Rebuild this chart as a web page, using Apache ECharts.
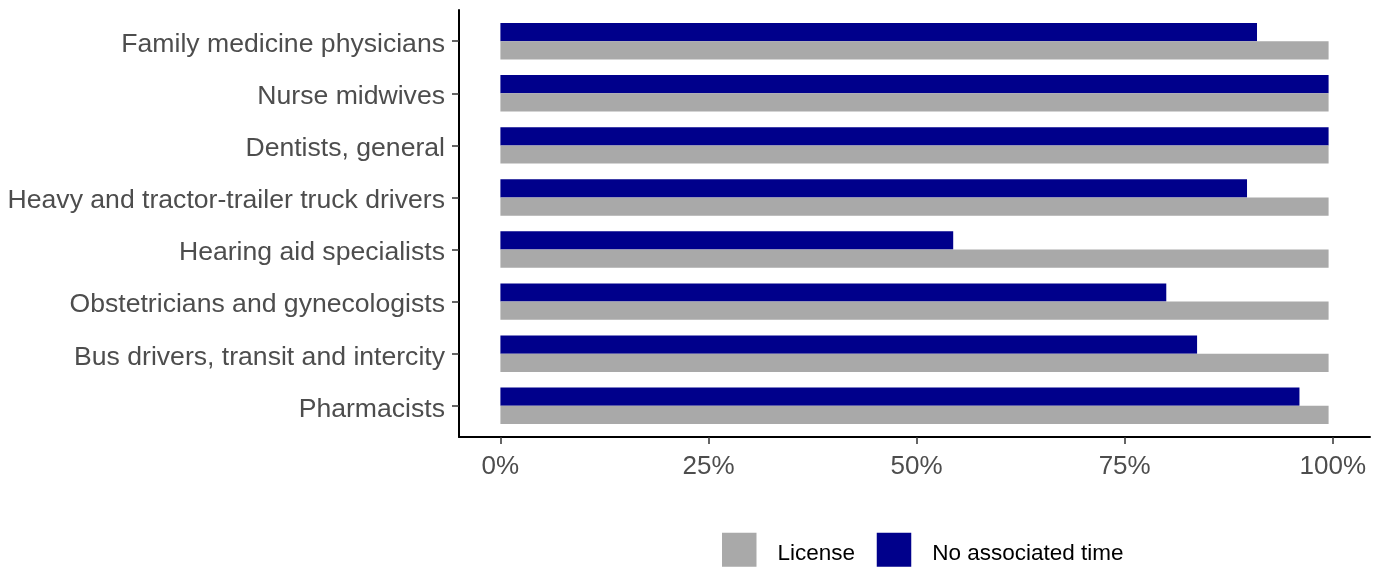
<!DOCTYPE html>
<html>
<head>
<meta charset="utf-8">
<script src="https://cdn.jsdelivr.net/npm/echarts@6/dist/echarts.min.js"></script>
<style>
html,body{margin:0;padding:0;background:#fff;}
#chart{width:1380px;height:567px;}
</style>
</head>
<body>
<div id="chart"></div>
<script>
// Categories listed top to bottom as in the chart
const categories = [
  "Family medicine physicians",
  "Nurse midwives",
  "Dentists, general",
  "Heavy and tractor-trailer truck drivers",
  "Hearing aid specialists",
  "Obstetricians and gynecologists",
  "Bus drivers, transit and intercity",
  "Pharmacists"
];
// Percent values
const licenseValues = [99.5, 99.5, 99.5, 99.5, 99.5, 99.5, 99.5, 99.5];
const noTimeValues  = [90.9, 99.5, 99.5, 89.7, 54.4, 80.0, 83.7, 96.0];
const tickValues = [0, 25, 50, 75, 100];
const seriesNames = ["License", "No associated time"];

const chart = echarts.init(document.getElementById('chart'));
const band = 427 / 8.2;
const FONT = "'Liberation Sans', Arial, sans-serif";
// legend key: 34.5 x 34 square, with invisible extra room below so the text sits a bit lower
const KEY_ICON = 'path://M0,0L34.5,0L34.5,34L0,34Z M0,41.5L0,41.5';

const option = {
  animation: false,
  backgroundColor: '#ffffff',
  textStyle: { fontFamily: FONT },
  grid: [
    { left: 459, width: 911, top: 10 + 0.1 * band, height: 8 * band, outerBoundsMode: 'none', containLabel: false },
    { left: 459, width: 911, top: 10, height: 427, outerBoundsMode: 'none', containLabel: false }
  ],
  legend: {
    data: seriesNames,
    left: 722, top: 532.7,
    padding: 0,
    icon: KEY_ICON,
    itemWidth: 34.5, itemHeight: 41.5,
    itemGap: 21.7,
    textStyle: { fontSize: 22.5, color: '#000', fontFamily: FONT, padding: [0, 0, 0, 16] }
  },
  xAxis: [
    {
      gridIndex: 0, type: 'value',
      min: -4.975, max: 104.475,
      offset: 437 - (10 + 0.1 * band + 8 * band),
      axisLine: { show: false, onZero: false },
      splitLine: { show: false },
      axisTick: { show: true, customValues: tickValues, length: 7, lineStyle: { color: '#333', width: 1.5 } },
      axisLabel: { customValues: tickValues, formatter: v => v + '%', fontSize: 26, color: '#4d4d4d', margin: 17, fontFamily: FONT }
    },
    {
      gridIndex: 1, type: 'value', min: 0, max: 1,
      axisLine: { show: true, onZero: false, lineStyle: { color: '#000', width: 2 } },
      axisTick: { show: false }, axisLabel: { show: false }, splitLine: { show: false }
    }
  ],
  yAxis: [
    {
      gridIndex: 0, type: 'category',
      data: categories.slice().reverse(),
      axisLine: { show: false, onZero: false },
      axisTick: { show: true, alignWithLabel: true, length: 7, lineStyle: { color: '#333', width: 1.5 } },
      axisLabel: { fontSize: 26.6, color: '#4d4d4d', margin: 14, fontFamily: FONT, verticalAlign: 'top', lineHeight: 7 }
    },
    {
      gridIndex: 1, type: 'value', min: 0, max: 1,
      axisLine: { show: true, onZero: false, lineStyle: { color: '#000', width: 2 } },
      axisTick: { show: false }, axisLabel: { show: false }, splitLine: { show: false }
    }
  ],
  series: [
    {
      name: seriesNames[1], type: 'bar', xAxisIndex: 0, yAxisIndex: 0,
      data: noTimeValues.slice().reverse(),
      barWidth: band * 0.35, barGap: '0%',
      itemStyle: { color: '#00008b' }
    },
    {
      name: seriesNames[0], type: 'bar', xAxisIndex: 0, yAxisIndex: 0,
      data: licenseValues.slice().reverse(),
      barWidth: band * 0.35, barGap: '0%',
      itemStyle: { color: '#a9a9a9' }
    }
  ]
};
chart.setOption(option);
</script>
</body>
</html>
